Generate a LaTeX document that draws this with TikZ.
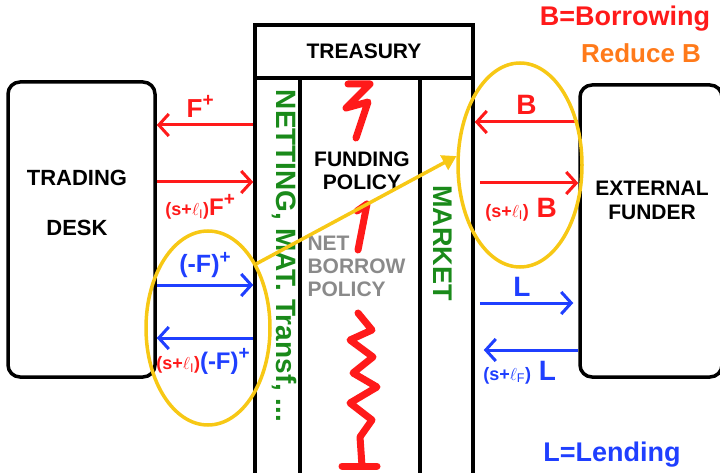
\documentclass[tikz,border=0pt]{standalone}
\usepackage{fontspec}
\setmainfont{Liberation Sans}
\usetikzlibrary{arrows.meta,shapes.geometric}
\definecolor{penred}{HTML}{FF1A1A}
\definecolor{penblue}{HTML}{1F3FFF}
\definecolor{pengreen}{HTML}{1A8A1A}
\definecolor{penorange}{HTML}{FF7A1A}
\definecolor{pengray}{HTML}{8A8A8A}
\definecolor{penyellow}{HTML}{F7C815}
\newcommand\txtsize[1]{\fontsize{#1}{#1}\selectfont}
\newcommand\plusup{\raisebox{0.75ex}{\txtsize{19}+}}
\begin{document}
\begin{tikzpicture}[x=1pt,y=-1pt,
  every node/.style={font=\bfseries},
  blk/.style={draw, line width=3.5pt},
  redarr/.style={penred, line width=3pt, -{Straight Barb[length=10pt,width=22pt]}},
  bluearr/.style={penblue, line width=3pt, -{Straight Barb[length=10pt,width=22pt]}},
  ring/.style={draw=penyellow, ellipse, line width=3.5pt}]
\useasboundingbox (0,0) rectangle (720,473);

% boxes
\node[blk, rounded corners=12pt, minimum width=147, minimum height=295] (desk) at (81.5,229.5) {};
\node[blk, rounded corners=12pt, minimum width=142, minimum height=292] (funder) at (651,231) {};
\node[blk, minimum width=218, minimum height=53, font=\bfseries\txtsize{21}] (treasury) at (364,51.5) {TREASURY};
\node[blk, minimum width=45, minimum height=412] (netcol) at (277.5,284) {};
\node[blk, minimum width=120, minimum height=412] (polcol) at (360,284) {};
\node[blk, minimum width=53, minimum height=412] (mktcol) at (446.5,284) {};

% texts
\node[align=center, font=\bfseries\txtsize{22}] (desktxt) at (77,203) {TRADING\\[28pt]DESK};
\node[align=center, font=\bfseries\txtsize{21}] (fundertxt) at (652,200) {EXTERNAL\\[3pt]FUNDER};
\node[rotate=-90, pengreen, font=\bfseries\txtsize{28}] (netting) at (284,256) {NETTING, MAT. Transf, ...};
\node[rotate=-90, pengreen, font=\bfseries\txtsize{27}] (market) at (443,243) {MARKET};
\node[align=center, font=\bfseries\txtsize{21}] (funding) at (362,171) {FUNDING\\[2pt]POLICY};
\node[align=left, anchor=west, pengray, font=\bfseries\txtsize{21}] (netborrow) at (304,266) {NET\\[2pt]BORROW\\[2pt]POLICY};
\node[penred, font=\bfseries\txtsize{27}] (bdef) at (625,19) {B=Borrowing};
\node[penorange, font=\bfseries\txtsize{26}] (reduce) at (641,53) {Reduce B};
\node[penblue, font=\bfseries\txtsize{27}] (ldef) at (612,455) {L=Lending};

% policy squiggles
\draw[penred, line width=7pt, line cap=round, line join=round] (348,84) -- (370,84) -- (346,108) -- (368,102) -- (356,138);
\draw[penred, line width=7pt, line cap=round, line join=round] (357,211) -- (367,204) -- (358,250);
\draw[penred, line width=7pt, line cap=round, line join=round] (358,313) -- (372,330) -- (350,340) -- (373,357) -- (353,373) -- (377,387) -- (350,403) -- (372,420) -- (360,437) -- (362,466);
\draw[penred, line width=7pt, line cap=round] (342,466) -- (377,466);

% desk <-> treasury
\draw[redarr] (netcol.west |- 0,125) -- node[pos=0.55, above=3pt, font=\bfseries\txtsize{26}] {F\plusup} (desk.east |- 0,125);
\draw[redarr] (desk.east |- 0,182) -- node[pos=0.45, below=8pt, font=\bfseries\txtsize{24}] {{\txtsize{18}(s+$\ell_{\mathrm I}$)}F\plusup} (netcol.west |- 0,182);
\draw[bluearr] (desk.east |- 0,285) -- node[pos=0.5, above=2pt, font=\bfseries\txtsize{25}] {(-F)\plusup} (netcol.west |- 0,285);
\draw[bluearr] (netcol.west |- 0,338) -- node[pos=0.52, below=6pt, font=\bfseries\txtsize{24}] {\textcolor{penred}{\txtsize{18}(s+$\ell_{\mathrm I}$)}\textcolor{penblue}{(-F)\plusup}} (desk.east |- 0,338);

% treasury <-> funder
\draw[redarr] (funder.west |- 0,122) -- node[pos=0.5, above=3pt, font=\bfseries\txtsize{28}] {B} (mktcol.east |- 0,122);
\draw[redarr] ([xshift=5pt]mktcol.east |- 0,183) -- node[pos=0.42, below=10pt, font=\bfseries\txtsize{28}] {{\txtsize{18}(s+$\ell_{\mathrm I}$)} B} (funder.west |- 0,183);
\draw[bluearr] ([xshift=5pt]mktcol.east |- 0,303) -- node[pos=0.45, above=2pt, font=\bfseries\txtsize{28}] {L} ([xshift=-5pt]funder.west |- 0,303);
\draw[bluearr] (funder.west |- 0,350) -- node[pos=0.62, below=6pt, font=\bfseries\txtsize{28}] {{\txtsize{18}(s+$\ell_{\mathrm F}$)} L} ([xshift=9pt]mktcol.east |- 0,350);

% yellow rings
\node[ring, minimum width=124, minimum height=194] (leftring) at (208,328) {};
\node[ring, minimum width=124, minimum height=204] (rightring) at (520,165) {};
\draw[penyellow, line width=3.5pt, -{Triangle[length=14pt,width=16pt]}] (leftring.53) -- (rightring.172);
\end{tikzpicture}
\end{document}
